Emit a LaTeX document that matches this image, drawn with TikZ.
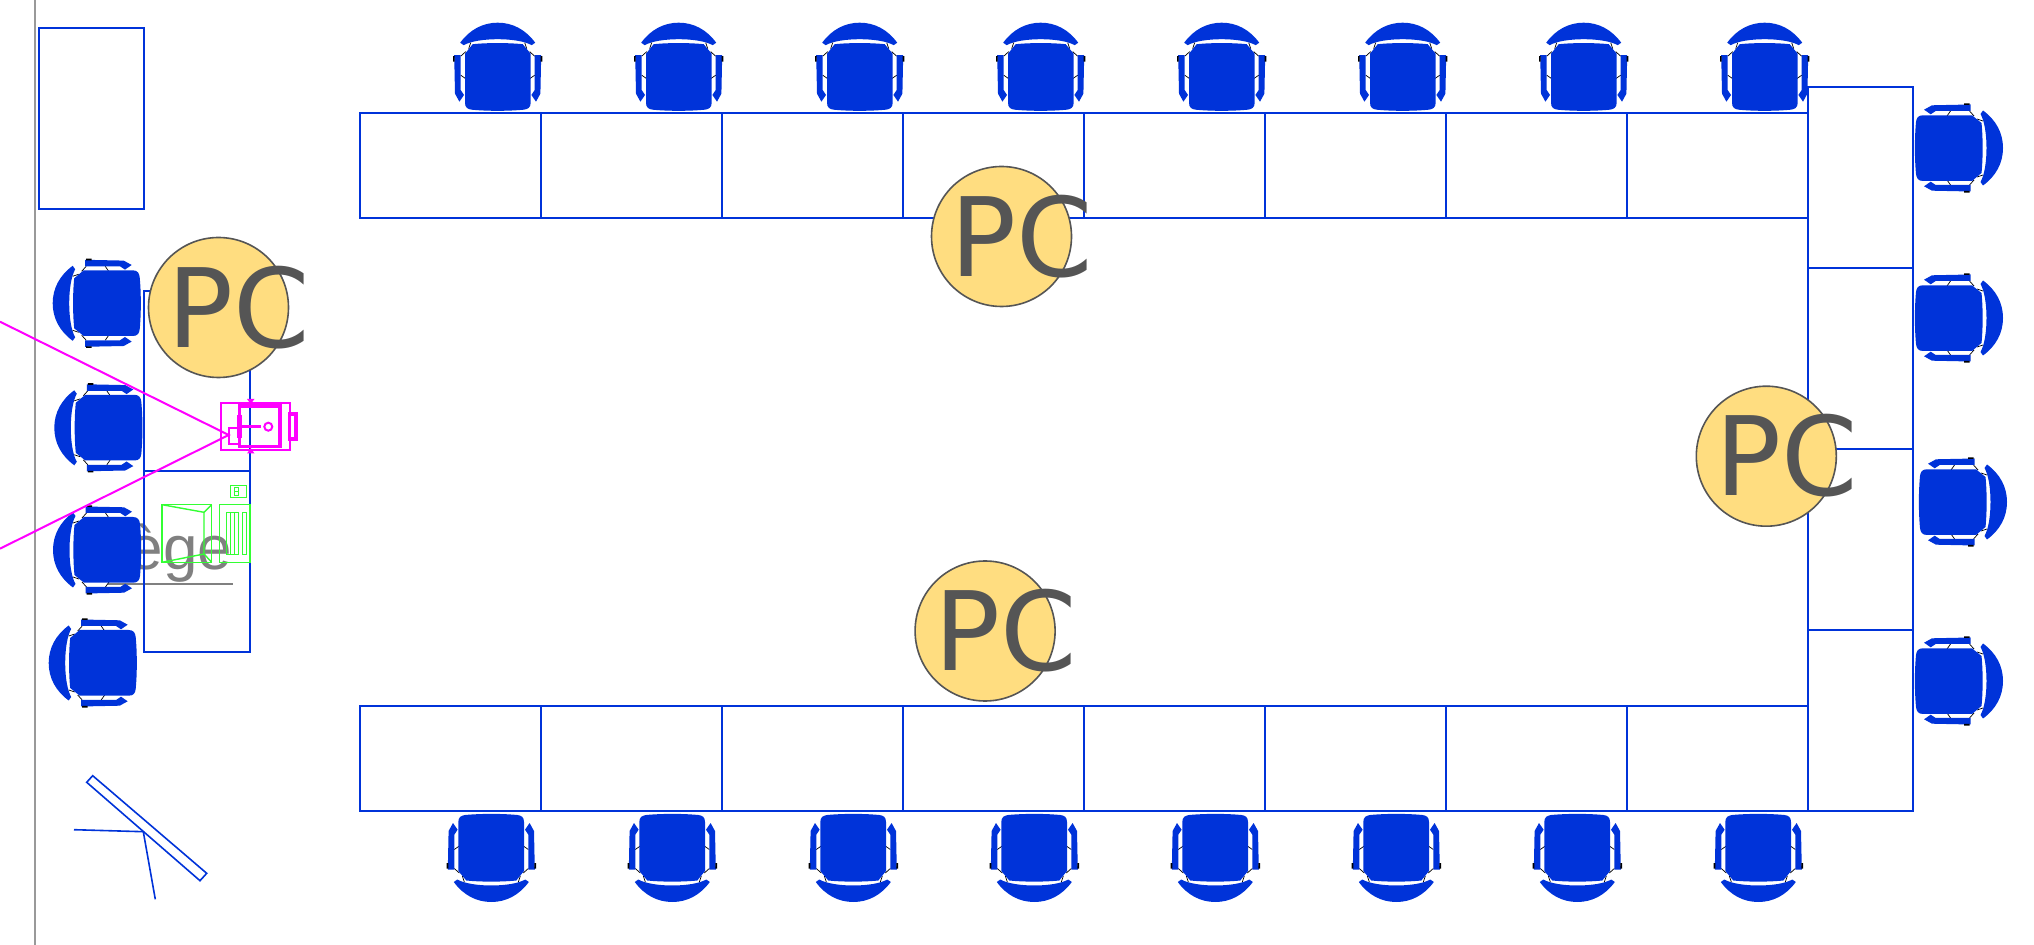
\documentclass[tikz,border=0pt]{standalone}
\usepackage{fontspec}
\setmainfont{Liberation Sans}
\newfontfamily\pcfont{DejaVu Sans}
\definecolor{planblue}{HTML}{0033D9}
\definecolor{projmag}{HTML}{FF00FF}
\definecolor{pcgreen}{HTML}{33FF33}
\definecolor{pcfill}{HTML}{FFDD80}
\definecolor{pcdark}{HTML}{555555}
\definecolor{wallgray}{HTML}{999999}
\definecolor{textgray}{HTML}{808080}
\tikzset{
  tablebox/.style={draw=planblue,line width=1pt},
  greenline/.style={draw=pcgreen,line width=0.7pt},
  magline/.style={draw=projmag,line width=1pt},
  magthick/.style={draw=projmag,line width=1.8pt},
  pcdisc/.style={circle,draw=pcdark,line width=0.8pt,fill=pcfill,minimum size=70pt,inner sep=0pt},
  pclabel/.style={anchor=base west,inner sep=0pt,text=pcdark,font=\pcfont\fontsize{54.8}{60}\selectfont},
  chair/.pic={
    \fill[planblue] (-37.5,-24) .. controls (-28,-37) and (-15,-44) .. (0,-44)
      .. controls (15,-44) and (28,-37) .. (37.5,-24) -- (34,-21.5)
      .. controls (20,-29.5) and (-20,-29.5) .. (-34,-21.5) -- cycle;
    \draw[black,line width=0.35pt] (-27,-24) -- (-29,-18) (27,-24) -- (29,-18)
      (-37,-10.5) -- (-32,-15) (37,-10.5) -- (32,-15)
      (-37,8.5) -- (-32,12) (37,8.5) -- (32,12);
    \fill[planblue] (-25,-22.5) .. controls (-10,-24) and (10,-24) .. (25,-22.5) -- (33,-13) -- (33,36)
      .. controls (33,41) and (30,42.5) .. (26,43) .. controls (10,44.5) and (-10,44.5) .. (-26,43)
      .. controls (-30,42.5) and (-32.7,41) .. (-32.7,36) -- (-32.7,-13) -- cycle;
    \fill[planblue] (-43.5,-11.5) -- (-37,-11.5) -- (-37,23.3) -- (-33.7,28.3) -- (-38.3,35) -- (-42.7,27) -- cycle;
    \fill[planblue] (43.5,-11.5) -- (37,-11.5) -- (37,23.3) -- (33.7,28.3) -- (38.3,35) -- (42.7,27) -- cycle;
    \fill[black] (-44.7,-10.5) rectangle (-43,-5) (44.7,-10.5) rectangle (43,-5);
  }
}
\begin{document}
\begin{tikzpicture}[x=0.5pt,y=-0.5pt]
\useasboundingbox (0,0) rectangle (2034,945);
% wall
\draw[wallgray,line width=1.4pt] (35,0) -- (35,945);
% label behind the furniture
\node[anchor=base east,inner sep=0pt,text=textgray,font=\fontsize{31}{36}\selectfont] (seat) at (232.7,570) {ège};
\draw[textgray,line width=1pt] (108,584) -- (232.7,584);
% tables
\foreach \k in {0,...,7}{
  \draw[tablebox] ({359.5+181.06*\k},113) rectangle ({359.5+181.06*(\k+1)},218);
  \draw[tablebox] ({359.5+181.06*\k},706) rectangle ({359.5+181.06*(\k+1)},811);
}
\foreach \a/\b in {87/268.5,268.5/449,449/630,630/811}
  \draw[tablebox] (1808,\a) rectangle (1913,\b);
\draw[tablebox] (39,28.5) rectangle (144,209);
\draw[tablebox] (144,291) rectangle (250,471);
\draw[tablebox] (144,471) rectangle (250,652);
% chairs
\foreach \k in {0,...,7}{
  \pic at ({497.7+181*\k},66.7) {chair};
  \pic[rotate=180] at ({491.3+181*\k},858) {chair};
}
\pic[rotate=-90] at (1959,148) {chair};
\pic[rotate=-90] at (1959,318) {chair};
\pic[rotate=-90] at (1963,502) {chair};
\pic[rotate=-90] at (1959,681) {chair};
\pic[rotate=90] at (96.7,303.3) {chair};
\pic[rotate=90] at (98.3,427.8) {chair};
\pic[rotate=90] at (97,550) {chair};
\pic[rotate=90] at (92.7,663) {chair};
% computer
\draw[greenline] (230.7,485.3) rectangle (246.7,497.3);
\draw[greenline] (234.7,487.3) rectangle (238.7,495.3) (234.7,491.3) -- (238.7,491.3);
\draw[greenline] (162,504.7) rectangle (211.7,562.3);
\draw[greenline] (162,504.7) -- (204,512.3) -- (204,554) -- (162,562.3) (204,512.3) -- (211.7,504.7) (204,554) -- (211.7,562.3);
\draw[greenline] (219.3,504.7) rectangle (250,562.3);
\draw[greenline] (226.7,512.3) rectangle (238.7,554.3) (230.7,512.3) -- (230.7,554.3) (234.7,512.3) -- (234.7,554.3);
\draw[greenline] (242.7,512.3) rectangle (246.7,554.3);
% projector
\coordinate (beamA) at (0,321.7);
\coordinate (beamB) at (0,548.7);
\coordinate (lens) at (228.7,435);
\draw[magline] (beamA) -- (lens) -- (beamB);
\draw[magline] (221,403.3) rectangle (290,450);
\draw[magthick] (239.3,406) rectangle (280,446.7);
\draw[magline] (228.7,428.3) rectangle (239.3,444);
\draw[magthick] (289.3,414) rectangle (295.7,439);
\draw[magthick] (240,426.7) -- (260.7,426.7);
\draw[magline] (268.3,426.7) circle (4);
\draw[projmag,line width=2.2pt] (239.3,415) -- (239.3,438) (280,415) -- (280,438);
\fill[projmag] (247,399) -- (254.5,399) -- (250.7,404) -- cycle;
\fill[projmag] (247,453.5) -- (254.5,453.5) -- (250.7,448) -- cycle;
% easel
\draw[planblue,line width=0.8pt] (92.7,775.7) -- (86.7,782.3) -- (200,880.7) -- (206.7,873.3) -- cycle;
\coordinate (hinge) at (143.3,831.7);
\draw[planblue,line width=0.8pt] (74,829.7) -- (hinge) -- (155.3,899.3);
% PC discs
\foreach \n/\cx/\cy in {a/218.5/307.5,b/1001.5/236.5,c/1766.3/456.2,d/985.1/631}{
  \node[pcdisc] (disc\n) at (\cx,\cy) {};
  \node[pclabel] (pc\n) at ({\cx-51.5},{\cy+39.6}) {PC};
}
\end{tikzpicture}
\end{document}
